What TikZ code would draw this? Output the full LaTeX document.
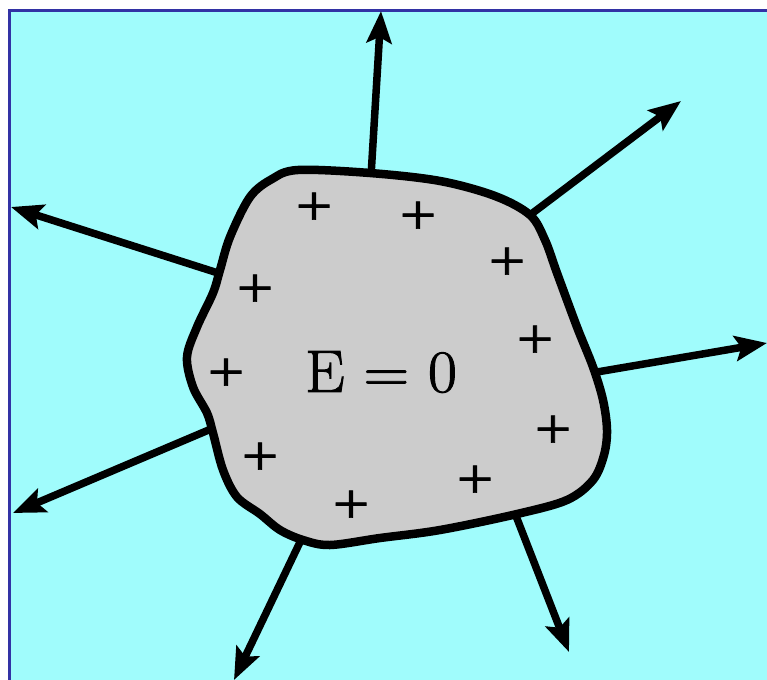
\documentclass[tikz,border=0pt]{standalone}
\usepackage{fontspec}
\newfontfamily\plusfont{Liberation Serif}[FakeBold=1.2]
\newfontfamily\labfont{Latin Modern Roman}[FakeBold=1.5]
\usetikzlibrary{arrows.meta}
\definecolor{bgcyan}{RGB}{160,252,252}
\definecolor{frameblue}{RGB}{50,50,165}
\definecolor{blobgrey}{RGB}{204,204,204}
\tikzset{
  field/.style={line width=7.5pt,-{Stealth[length=32pt,width=25pt,inset=6pt]}},
  charge/.style={font=\plusfont\fontsize{58}{58}\selectfont,xscale=1.12,inner sep=0pt},
  blobline/.style={line width=8.5pt,line join=round},
}
\begin{document}
\begin{tikzpicture}[x=1pt,y=-1pt]
\useasboundingbox (0,0) rectangle (767,679);
\fill[white] (0,0) rectangle (767,679);
\draw[fill=bgcyan,draw=frameblue,line width=3pt] (9,11) rectangle (772,684);
% blob
\def\blobpath{plot[smooth cycle,tension=0.55] coordinates {(298,170) (370,173) (440,181) (495,196) (530,215) (545,240) (557,273) (577,327) (593,367) (603,400) (607,430) (604,455) (593,480) (567,500) (517,514) (440,530) (380,538) (330,545) (303,540) (280,530) (260,514) (237,497) (223,470) (213,433) (207,413) (193,387) (187,357) (197,327) (213,293) (220,270) (230,237) (250,197) (272,179)}}
\fill[blobgrey] \blobpath;
% arrow anchors
\coordinate (s1) at (371,176); \coordinate (e1) at (381,11);
\coordinate (s2) at (530,215); \coordinate (e2) at (681,101);
\coordinate (s3) at (597,372); \coordinate (e3) at (767,343);
\coordinate (s4) at (516,516); \coordinate (e4) at (569,652);
\coordinate (s5) at (301,540); \coordinate (e5) at (234,680);
\coordinate (s6) at (211,429); \coordinate (e6) at (13,513);
\coordinate (s7) at (218,273); \coordinate (e7) at (11,207);
\foreach \i in {1,...,7} {\draw[field] (s\i) -- (e\i);}
\draw[blobline] \blobpath;
% charges
\node[charge] (p1) at (314,209) {+};
\node[charge] (p2) at (418,218) {+};
\node[charge] (p3) at (507,264) {+};
\node[charge] (p4) at (255,291) {+};
\node[charge] (p5) at (535,342) {+};
\node[charge] (p6) at (226,375) {+};
\node[charge] (p7) at (553,432) {+};
\node[charge] (p8) at (260,459) {+};
\node[charge] (p9) at (475,482) {+};
\node[charge] (p10) at (351,507) {+};
\node[font=\labfont\fontsize{60}{64}\selectfont,xscale=1.05,inner sep=0pt] (lab) at (381,372) {E = 0};
\end{tikzpicture}
\end{document}
